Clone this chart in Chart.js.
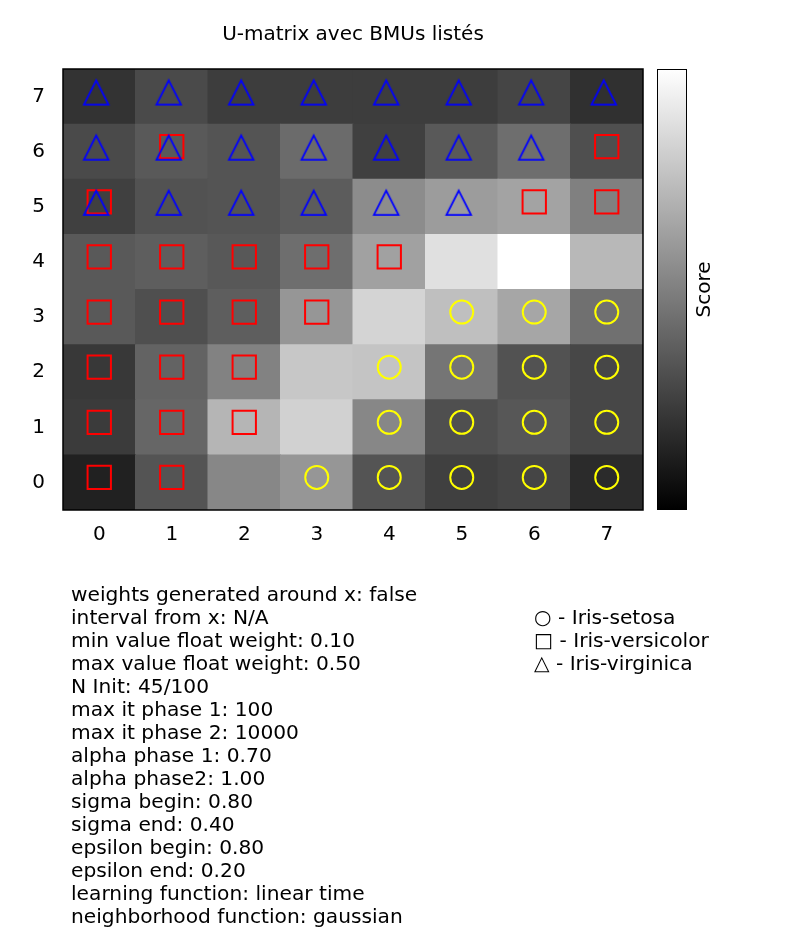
<!DOCTYPE html>
<html><head><meta charset="utf-8">
<script src="https://cdn.jsdelivr.net/npm/chart.js@4.4.0/dist/chart.umd.min.js"></script>
<style>
html,body{margin:0;padding:0;background:#fff;}
#wrap{position:relative;width:798px;height:947px;overflow:hidden;}
#c{position:absolute;left:0;top:0;}
.txt{position:absolute;font-family:"DejaVu Sans";font-size:20.2px;line-height:23px;color:#000;white-space:pre;}
</style></head><body>
<div id="wrap">
<canvas id="c" width="798" height="947"></canvas>
<div class="txt" id="params" style="left:71px;top:583px"></div>
<div class="txt" id="legend" style="left:534px;top:606px"></div>
</div>
<script>
// ---- data ----
const xLabels = ['0','1','2','3','4','5','6','7'];
const yLabels = [0,1,2,3,4,5,6,7];
// U-matrix score (0 = black, 1 = white); row index 0 = bottom row
const uRow0 = [0.13,0.33,0.53,0.59,0.33,0.25,0.27,0.17];
const uRow1 = [0.23,0.40,0.71,0.82,0.53,0.31,0.34,0.28];
const uRow2 = [0.22,0.39,0.51,0.78,0.77,0.46,0.32,0.28];
const uRow3 = [0.35,0.31,0.37,0.59,0.83,0.75,0.65,0.44];
const uRow4 = [0.35,0.37,0.345,0.43,0.63,0.88,1.00,0.72];
const uRow5 = [0.25,0.32,0.33,0.36,0.55,0.61,0.64,0.50];
const uRow6 = [0.29,0.35,0.33,0.42,0.25,0.35,0.43,0.31];
const uRow7 = [0.20,0.29,0.24,0.24,0.24,0.24,0.27,0.19];
const uMatrix = [uRow0,uRow1,uRow2,uRow3,uRow4,uRow5,uRow6,uRow7];
// BMUs as [column, row]
const setosa = [[3,0],[4,0],[5,0],[6,0],[7,0],[4,1],[5,1],[6,1],[7,1],[4,2],[5,2],[6,2],[7,2],[5,3],[6,3],[7,3]];
const versicolor = [[0,0],[1,0],[0,1],[1,1],[2,1],[0,2],[1,2],[2,2],[0,3],[1,3],[2,3],[3,3],[0,4],[1,4],[2,4],[3,4],[4,4],[0,5],[6,5],[7,5],[1,6],[7,6]];
const virginica = [[0,5],[1,5],[2,5],[3,5],[4,5],[5,5],[0,6],[1,6],[2,6],[3,6],[4,6],[5,6],[6,6],[0,7],[1,7],[2,7],[3,7],[4,7],[5,7],[6,7],[7,7]];
const paramLines = [
  'weights generated around x: false',
  'interval from x: N/A',
  'min value float weight: 0.10',
  'max value float weight: 0.50',
  'N Init: 45/100',
  'max it phase 1: 100',
  'max it phase 2: 10000',
  'alpha phase 1: 0.70',
  'alpha phase2: 1.00',
  'sigma begin: 0.80',
  'sigma end: 0.40',
  'epsilon begin: 0.80',
  'epsilon end: 0.20',
  'learning function: linear time',
  'neighborhood function: gaussian'
];
const legendLines = ['\u25CB - Iris-setosa','\u25A1 - Iris-versicolor','\u25B3 - Iris-virginica'];
const titleText = 'U-matrix avec BMUs list\u00e9s';
const colorbarLabel = 'Score';

// ---- build ----
document.getElementById('params').textContent = paramLines.join('\n');
document.getElementById('legend').textContent = legendLines.join('\n');

const grey = v => { const g = Math.round(v*255); return `rgb(${g},${g},${g})`; };
const FONT = '"DejaVu Sans"';

// triangle marker image (matplotlib-like '^', slightly taller than equilateral)
function triangleMarker(color) {
  const cv = document.createElement('canvas');
  cv.width = 40; cv.height = 40;
  const c = cv.getContext('2d');
  const cx = 20 - 3, cy = 20 - 4, hw = 12.3, hh = 12.2;
  c.strokeStyle = color; c.lineWidth = 1.8; c.lineJoin = 'miter';
  c.beginPath();
  c.moveTo(cx, cy - hh);
  c.lineTo(cx + hw, cy + hh);
  c.lineTo(cx - hw, cy + hh);
  c.closePath();
  c.stroke();
  return cv;
}

const cellSets = uMatrix.map((row, r) => ({
  type: 'bar',
  data: xLabels.map(() => [r-0.5, r+0.5]),
  backgroundColor: row.map(grey),
  borderWidth: 0,
  grouped: false,
  categoryPercentage: 1,
  barPercentage: 1,
  inflateAmount: 0.5,
  order: 10
}));
const pts = arr => arr.map(([c, r]) => ({x: xLabels[c], y: r}));
const markerSets = [
  {type:'scatter', label:'Iris-virginica', data: pts(virginica), pointStyle: triangleMarker('#0000ff'), pointRadius:15,
   borderColor:'#0000ff', backgroundColor:'rgba(0,0,0,0)', borderWidth:1.8, order:0},
  {type:'scatter', label:'Iris-versicolor', data: pts(versicolor), pointStyle:'rect', pointRadius:16.5,
   borderColor:'#ff0000', backgroundColor:'rgba(0,0,0,0)', borderWidth:2, order:1, shiftX:0, shiftY:-5},
  {type:'scatter', label:'Iris-setosa', data: pts(setosa), pointStyle:'circle', pointRadius:11.5,
   borderColor:'#ffff00', backgroundColor:'rgba(0,0,0,0)', borderWidth:2, order:2, shiftX:0, shiftY:-5}
];

const extras = {
  id: 'extras',
  beforeDatasetDraw(chart, args) {
    const ds = chart.data.datasets[args.index];
    if (ds.shiftY !== undefined) { chart.ctx.save(); chart.ctx.translate(ds.shiftX||0, ds.shiftY); }
  },
  afterDatasetDraw(chart, args) {
    const ds = chart.data.datasets[args.index];
    if (ds.shiftY !== undefined) chart.ctx.restore();
  },
  afterDraw(chart) {
    const ctx = chart.ctx, a = chart.chartArea;
    ctx.save();
    ctx.strokeStyle = '#000'; ctx.lineWidth = 1.5;
    ctx.strokeRect(a.left, a.top, a.right - a.left, a.bottom - a.top);
    // colorbar
    const cx = a.right + 14, cw = 30;
    const g = ctx.createLinearGradient(0, a.bottom, 0, a.top);
    g.addColorStop(0, '#000'); g.addColorStop(1, '#fff');
    ctx.fillStyle = g;
    ctx.fillRect(cx, a.top, cw, a.bottom - a.top);
    ctx.lineWidth = 1;
    ctx.strokeRect(cx + 0.5, a.top + 0.5, cw - 1, a.bottom - a.top - 1);
    ctx.translate(cx + cw + 18, (a.top + a.bottom) / 2);
    ctx.rotate(-Math.PI / 2);
    ctx.fillStyle = '#000';
    ctx.font = '20px ' + FONT;
    ctx.textAlign = 'center'; ctx.textBaseline = 'middle';
    ctx.fillText(colorbarLabel, 0, 0);
    ctx.restore();
  }
};

new Chart(document.getElementById('c'), {
  type: 'bar',
  data: { labels: xLabels, datasets: [...markerSets, ...cellSets] },
  options: {
    responsive: false,
    animation: false,
    layout: { padding: { left: 0, right: 155, top: 0, bottom: 0 } },
    plugins: {
      legend: { display: false },
      tooltip: { enabled: false },
      title: { display: true, text: titleText, fullSize: false, color: '#000',
               font: { family: FONT, size: 20, weight: 'normal' }, padding: { top: 23, bottom: 22 } }
    },
    scales: {
      x: {
        type: 'category', offset: true,
        grid: { display: false, drawTicks: false }, border: { display: false },
        ticks: { color: '#000', font: { family: FONT, size: 20 }, padding: 13, maxRotation: 0 },
        afterFit(s) { s.height = 437; }
      },
      y: {
        type: 'linear', min: -0.5, max: 7.5,
        grid: { display: false, drawTicks: false }, border: { display: false },
        ticks: { color: '#000', font: { family: FONT, size: 20 }, padding: 18 },
        afterBuildTicks(s) { s.ticks = yLabels.map(v => ({ value: v })); },
        afterFit(s) { s.width = 63; }
      }
    }
  },
  plugins: [extras]
});
</script>
</body></html>
